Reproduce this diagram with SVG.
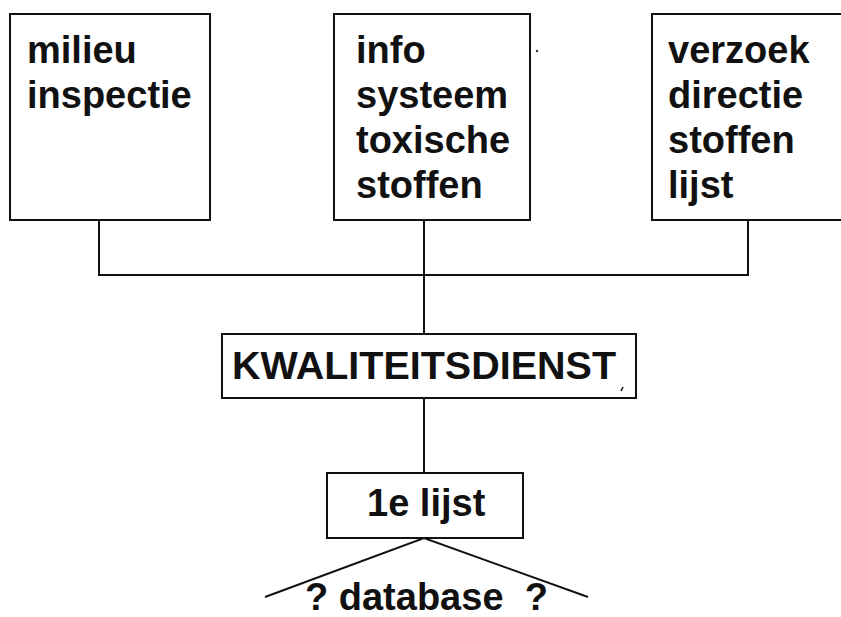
<svg xmlns="http://www.w3.org/2000/svg" width="841" height="617" viewBox="0 0 841 617">
  <style>
    .box { fill: #fff; stroke: #111; stroke-width: 2; }
    .wire { fill: none; stroke: #111; stroke-width: 2; }
    .lbl { font-family: "Liberation Sans", Arial, Helvetica, sans-serif; font-weight: bold; font-size: 38px; fill: #111; }
  </style>
  <rect width="841" height="617" fill="#fff"/>

  <!-- connectors -->
  <g id="connectors">
    <polyline class="wire" points="99,220 99,275 748,275 748,220"/>
    <line class="wire" x1="424" y1="220" x2="424" y2="334"/>
    <line class="wire" x1="424" y1="398" x2="424" y2="473"/>
    <polyline class="wire" points="265,597 424,538 588,597"/>
  </g>

  <g id="milieu-inspectie">
    <rect class="box" x="10" y="14" width="200" height="206"/>
    <text class="lbl" x="27" y="63">milieu</text>
    <text class="lbl" x="27" y="108">inspectie</text>
  </g>

  <g id="info-systeem">
    <rect class="box" x="334" y="14" width="196" height="206"/>
    <text class="lbl" x="356" y="63">info</text>
    <text class="lbl" x="356" y="108">systeem</text>
    <text class="lbl" x="356" y="153">toxische</text>
    <text class="lbl" x="356" y="198">stoffen</text>
  </g>

  <g id="verzoek-directie">
    <rect class="box" x="652" y="14" width="200" height="206"/>
    <text class="lbl" x="668" y="63">verzoek</text>
    <text class="lbl" x="668" y="108">directie</text>
    <text class="lbl" x="668" y="153">stoffen</text>
    <text class="lbl" x="668" y="198">lijst</text>
  </g>

  <g id="kwaliteitsdienst">
    <rect class="box" x="222" y="334" width="414" height="64"/>
    <text class="lbl" x="232" y="379" style="font-size:39.5px">KWALITEITSDIENST</text>
    <path d="M621,391 l2,-4" stroke="#111" stroke-width="1.5" fill="none"/>
  </g>

  <g id="eerste-lijst">
    <rect class="box" x="327" y="473" width="196" height="65"/>
    <text class="lbl" x="367" y="516">1e lijst</text>
  </g>

  <g id="database">
    <text class="lbl" x="305" y="610" xml:space="preserve">? database  ?</text>
  </g>

  <circle cx="537" cy="51" r="1.2" fill="#333"/>
</svg>
